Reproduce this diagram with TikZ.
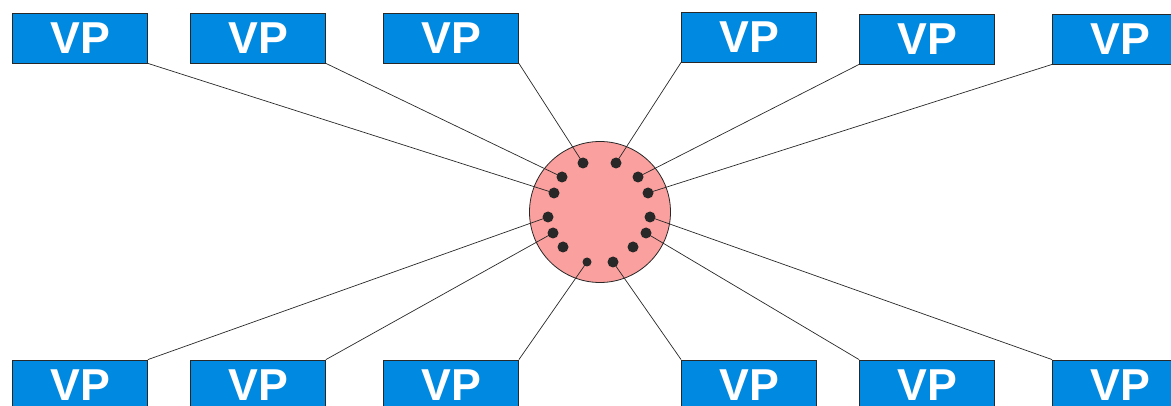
\documentclass[tikz,border=0pt]{standalone}
\usepackage{fontspec}
\setmainfont{Liberation Sans}
\usepackage{tikz}

\definecolor{vpblue}{RGB}{0,137,224}
\definecolor{hubred}{RGB}{250,160,158}
\definecolor{wire}{RGB}{40,40,40}

\begin{document}
\begin{tikzpicture}[x=1pt,y=-1pt,
  vp/.style={rectangle,draw=wire,line width=0.8pt,fill=vpblue,text=white,
    minimum width=135pt,minimum height=50pt,inner sep=0pt,
    font=\fontsize{44.7}{48}\selectfont\bfseries},
  hub/.style={circle,draw=wire,line width=0.8pt,fill=hubred,
    minimum size=141pt,inner sep=0pt},
  port/.style={circle,fill=wire,minimum size=11pt,inner sep=0pt},
  smallport/.style={port,minimum size=9pt},
  link/.style={draw=wire,line width=0.7pt}]
\useasboundingbox (0,0) rectangle (1171,406);
\clip (0,0) rectangle (1171,406);

\node [hub] (h) at (600,212) {};

% upper row
\node [vp] (t1) at (80,38) {VP};
\node [vp] (t2) at (258,38) {VP};
\node [vp] (t3) at (451,38) {VP};
\node [vp] (t4) at (749,37) {VP};
\node [vp] (t5) at (927,39) {VP};
\node [vp] (t6) at (1120,39) {VP};
% lower row
\node [vp] (b1) at (80,385) {VP};
\node [vp] (b2) at (258,385) {VP};
\node [vp] (b3) at (451,385) {VP};
\node [vp] (b4) at (749,385) {VP};
\node [vp] (b5) at (927,385) {VP};
\node [vp] (b6) at (1120,385) {VP};

% ports round the hub
\node [port] (p1) at (583,163) {};
\node [port] (p2) at (616,163) {};
\node [port] (p3) at (562,177) {};
\node [port] (p4) at (638,177) {};
\node [port] (p5) at (554,193) {};
\node [port] (p6) at (648,193) {};
\node [port] (p7) at (548,217) {};
\node [port] (p8) at (650,217) {};
\node [port] (p9) at (553,233) {};
\node [port] (p10) at (646,233) {};
\node [port] (p11) at (563,247) {};
\node [port] (p12) at (633,247) {};
\node [smallport] (p13) at (587,262) {};
\node [port] (p14) at (613,262) {};

\draw [link] (t1.south east) -- (p5.center);
\draw [link] (t2.south east) -- (p3.center);
\draw [link] (t3.south east) -- (p1.center);
\draw [link] (t4.south west) -- (p2.center);
\draw [link] (t5.south west) -- (p4.center);
\draw [link] (t6.south west) -- (p6.center);
\draw [link] (b1.north east) -- (p7.center);
\draw [link] (b2.north east) -- (p9.center);
\draw [link] (b3.north east) -- (p13.center);
\draw [link] (b4.north west) -- (p14.center);
\draw [link] (b5.north west) -- (p10.center);
\draw [link] (b6.north west) -- (p8.center);
\end{tikzpicture}
\end{document}
